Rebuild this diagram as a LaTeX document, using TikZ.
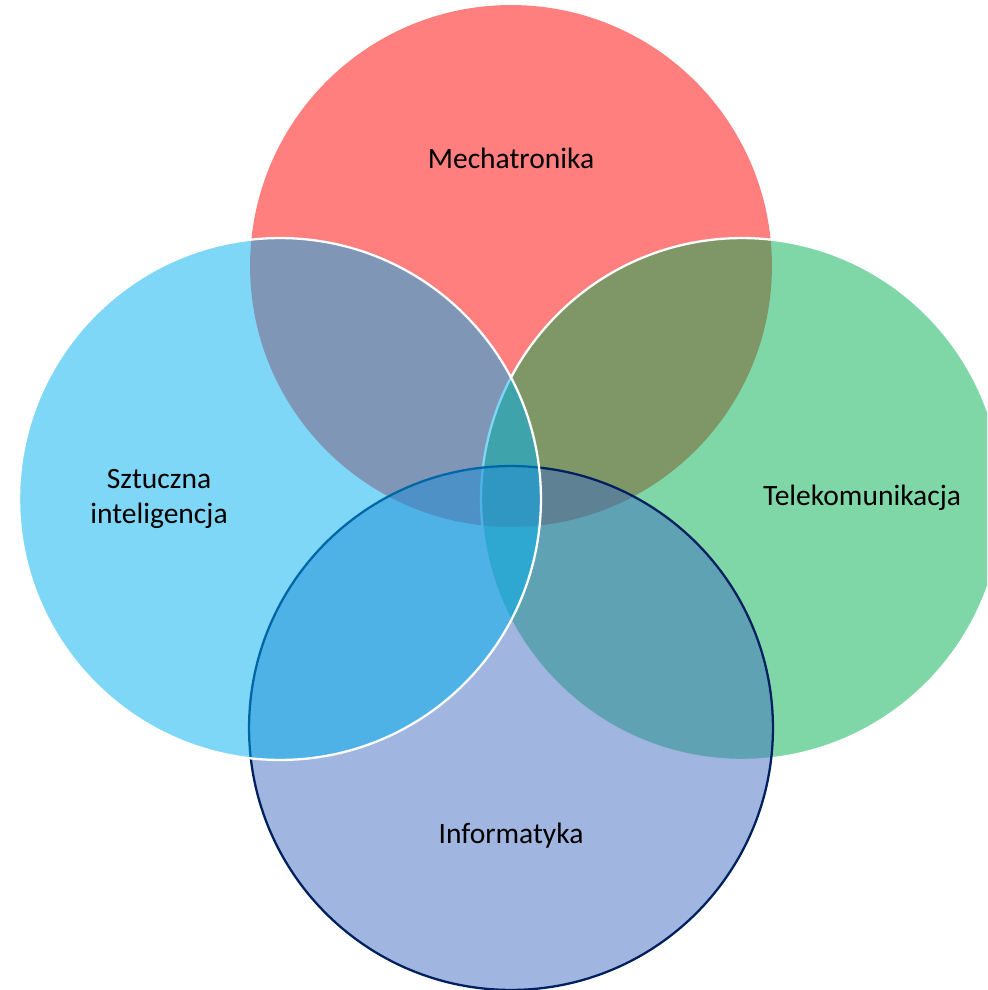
\documentclass[tikz,border=0pt]{standalone}
\usepackage{fontspec}
\setmainfont{Carlito}
\usetikzlibrary{positioning}
\definecolor{mechred}{RGB}{255,0,0}
\definecolor{aiblue}{RGB}{0,175,239}
\definecolor{telegreen}{RGB}{0,176,80}
\definecolor{infoblue}{RGB}{65,109,193}
\definecolor{infodraw}{RGB}{0,32,96}

\begin{document}
\begin{tikzpicture}[x=0.02cm,y=-0.02cm,every node/.style={font=\fontsize{16.8}{19.5}\selectfont},
  ring/.style={circle,inner sep=0pt,outer sep=0pt,minimum size=10.44cm,fill opacity=.5,line width=1.3pt},
  label/.style={align=center,text=black}]
  \useasboundingbox (0,0) rectangle (987,990);
  \clip (0,0) rectangle (987,990);
  % circles
  \node[ring,fill=mechred] (mech) at (511,266) {};
  \node[ring,fill=telegreen,draw=white] (tele) at (742,499) {};
  \node[ring,fill=infoblue,draw=infodraw,minimum size=10.48cm] (info) at (511,728) {};
  \node[ring,fill=aiblue,draw=white] (ai) at (280,499) {};
  % labels
  \node[label] (mechlbl) at (511,158) {Mechatronika};
  \node[label] (ailbl) at (159,499) {Sztuczna\\inteligencja};
  \node[label] (telelbl) at (862,498) {Telekomunikacja};
  \node[label] (infolbl) at (511,836) {Informatyka};
\end{tikzpicture}
\end{document}
